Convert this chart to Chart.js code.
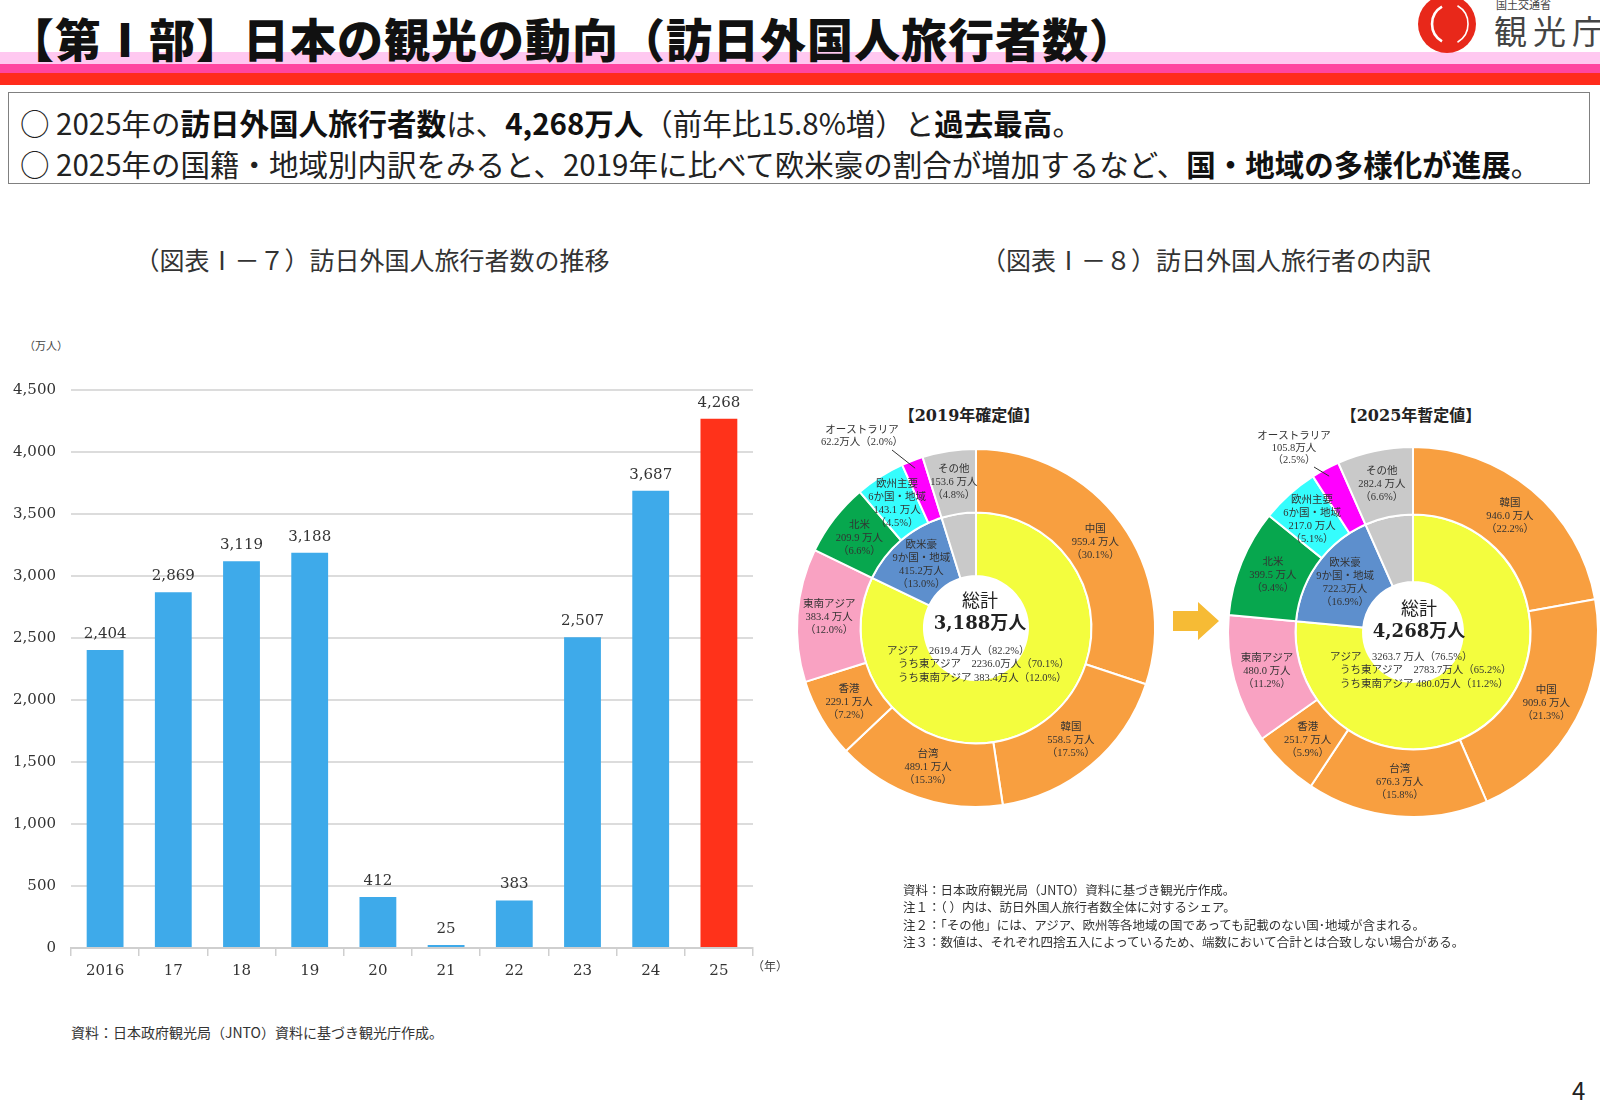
<!DOCTYPE html>
<html lang="ja">
<head>
<meta charset="utf-8">
<title>訪日外国人旅行者数</title>
<script src="https://cdn.jsdelivr.net/npm/chart.js@4.4.1/dist/chart.umd.min.js"></script>
<style>
html, body { margin: 0; padding: 0; background: #fff; overflow: hidden; }
body { width: 1600px; height: 1106px; position: relative; font-family: "Noto Sans CJK JP", "Noto Sans", sans-serif; color: #222; }
.abs { position: absolute; white-space: nowrap; }
#title { left: 8px; top: 5px; font-size: 46px; font-weight: 900; line-height: 64px; color: #111; z-index: 2; letter-spacing: 1px; }
.band { position: absolute; left: 0; width: 1600px; }
#box { left: 8px; top: 92px; width: 1582px; height: 92px; border: 1.5px solid #808080; box-sizing: border-box; }
.point { left: 20px; font-size: 29.5px; line-height: 36px; color: #222; }
.point b { font-weight: 700; color: #111; }
.sub { font-size: 25px; line-height: 30px; color: #333; }
.note { font-size: 12.5px; line-height: 17.4px; color: #333; }
.ptitle { font-family: "DejaVu Serif", "Noto Sans CJK JP", serif; font-weight: bold; font-size: 16px; color: #222; transform: translateX(-50%); }
canvas { position: absolute; }
</style>
</head>
<body>

<!-- ヘッダー -->
<div class="band" style="top:52px;height:12px;background:#ffc8f0;"></div>
<div class="band" style="top:64px;height:9px;background:#ff45a0;"></div>
<div class="band" style="top:73px;height:12px;background:#ff2c1c;"></div>
<div id="title" class="abs">【第Ⅰ部】日本の観光の動向（訪日外国人旅行者数）</div>

<svg class="abs" style="left:1414px;top:-6px" width="66" height="62">
  <circle cx="33" cy="30" r="29" fill="#e8281a"/>
  <path d="M28 12.7 A 20 20 0 0 0 28 47.3" fill="none" stroke="#fff" stroke-width="2.6"/>
  <path d="M43.5 11.8 A 21 21 0 0 1 43.5 48.2" fill="none" stroke="#fff" stroke-width="1.6"/>
</svg>
<div class="abs" style="left:1496px;top:-3px;font-size:11px;line-height:14px;color:#444;">国土交通省</div>
<div class="abs" style="left:1494px;top:10px;font-size:33px;line-height:40px;color:#444;letter-spacing:6px;">観光庁</div>

<!-- 要旨 -->
<div id="box" class="abs"></div>
<div class="abs point" style="top:104px;">○ 2025年の<b>訪日外国人旅行者数</b>は、<b>4,268万人</b>（前年比15.8%増）と<b>過去最高</b>。</div>
<div class="abs point" style="top:145px;">○ 2025年の国籍・地域別内訳をみると、2019年に比べて欧米豪の割合が増加するなど、<b>国・地域の多様化が進展</b>。</div>

<!-- 図表タイトル -->
<div class="abs sub" style="left:372px;top:244px;transform:translateX(-50%);">（図表Ⅰ－７）訪日外国人旅行者数の推移</div>
<div class="abs sub" style="left:1206px;top:244px;transform:translateX(-50%);">（図表Ⅰ－８）訪日外国人旅行者の内訳</div>

<!-- 棒グラフ -->
<div class="abs" style="left:24px;top:337px;font-size:11px;color:#444;">（万人）</div>
<canvas id="barChart" width="790" height="624" style="left:0;top:366px;"></canvas>
<div class="abs" style="left:752px;top:957px;font-size:12px;color:#444;">（年）</div>
<div class="abs" style="left:71px;top:1022px;font-size:14px;color:#333;">資料：日本政府観光局（JNTO）資料に基づき観光庁作成。</div>

<!-- 円グラフ -->
<div class="abs ptitle" style="left:969px;top:402px;">【2019年確定値】</div>
<div class="abs ptitle" style="left:1411px;top:402px;">【2025年暫定値】</div>
<canvas id="pie2019" width="500" height="500" style="left:726px;top:378px;"></canvas>
<canvas id="pie2025" width="500" height="500" style="left:1163px;top:382px;"></canvas>
<svg class="abs" style="left:1170px;top:600px" width="52" height="42">
  <polygon points="3,11 28,11 28,2 49,21 28,40 28,31 3,31" fill="#f6bb35"/>
</svg>

<div class="abs note" style="left:903px;top:881px;">資料：日本政府観光局（JNTO）資料に基づき観光庁作成。<br>注１：（ ）内は、訪日外国人旅行者数全体に対するシェア。<br>注２：「その他」には、アジア、欧州等各地域の国であっても記載のない国･地域が含まれる。<br>注３：数値は、それぞれ四捨五入によっているため、端数において合計とは合致しない場合がある。</div>

<div class="abs" style="left:1572px;top:1072px;font-size:24px;color:#222;">4</div>

<script>
// 訪日外国人旅行者数の推移（万人）
var years = ['2016', '17', '18', '19', '20', '21', '22', '23', '24', '25'];
var visitors = [2404, 2869, 3119, 3188, 412, 25, 383, 2507, 3687, 4268];
var yMax = 4500;
var yStep = 500;

// 内訳（外側の輪）
var outerNames2019 = ['中国', '韓国', '台湾', '香港', '東南アジア', '北米', '欧州主要\n6か国・地域', 'オーストラリア', 'その他'];
var outerValues2019 = [959.4, 558.5, 489.1, 229.1, 383.4, 209.9, 143.1, 62.2, 153.6];
var outerShares2019 = ['30.1', '17.5', '15.3', '7.2', '12.0', '6.6', '4.5', '2.0', '4.8'];

var outerNames2025 = ['韓国', '中国', '台湾', '香港', '東南アジア', '北米', '欧州主要\n6か国・地域', 'オーストラリア', 'その他'];
var outerValues2025 = [946.0, 909.6, 676.3, 251.7, 480.0, 399.5, 217.0, 105.8, 282.4];
var outerShares2025 = ['22.2', '21.3', '15.8', '5.9', '11.2', '9.4', '5.1', '2.5', '6.6'];

// 内訳（内側の輪）
var innerNames = ['アジア', '欧米豪\n9か国・地域', 'その他'];
var innerValues2019 = [2619.4, 415.2, 153.6];
var innerShares2019 = ['82.2', '13.0', '4.8'];
var innerValues2025 = [3263.7, 722.3, 282.4];
var innerShares2025 = ['76.5', '16.9', '6.6'];

// アジアの内訳
var eastAsia2019 = [2236.0, '70.1'];
var seAsia2019 = [383.4, '12.0'];
var eastAsia2025 = [2783.7, '65.2'];
var seAsia2025 = [480.0, '11.2'];

var totals = ['3,188', '4,268'];

// 色
var ORANGE = '#f89f40';
var outerColors = [ORANGE, ORANGE, ORANGE, ORANGE, '#f9a2c2', '#07a74e', '#35fdfd', '#ff00ff', '#c9c9c9'];
var innerColors = ['#f3fd3e', '#5d8fcd', '#c9c9c9'];
var SERIF = '"DejaVu Serif", "Noto Sans CJK JP", serif';
var LABEL_FONT = '10.5px "Liberation Serif", "Noto Sans CJK JP", serif';

function fmt1(v) { return v.toFixed(1); }

// 棒の上の数値
var barValueLabels = {
    id: 'barValueLabels',
    afterDatasetsDraw: function(chart) {
        var ctx = chart.ctx;
        var meta = chart.getDatasetMeta(0);
        ctx.save();
        ctx.font = '15px ' + SERIF;
        ctx.fillStyle = '#333';
        ctx.textAlign = 'center';
        ctx.textBaseline = 'middle';
        meta.data.forEach(function(bar, i) {
            ctx.fillText(visitors[i].toLocaleString('en-US'), bar.x, bar.y - 16);
        });
        ctx.restore();
    }
};

var barColors = visitors.map(function(v, i) { return i === visitors.length - 1 ? '#ff321a' : '#3eaaea'; });

new Chart(document.getElementById('barChart').getContext('2d'), {
    type: 'bar',
    data: {
        labels: years,
        datasets: [{
            label: '訪日外国人旅行者数',
            data: visitors,
            backgroundColor: barColors,
            borderWidth: 0,
            barPercentage: 0.54,
            categoryPercentage: 1
        }]
    },
    options: {
        responsive: false,
        animation: false,
        layout: { padding: { top: 15, right: 37, left: 0, bottom: 0 } },
        plugins: { legend: { display: false }, tooltip: { enabled: false } },
        scales: {
            x: {
                afterFit: function(s) { s.height = 42; },
                grid: { drawOnChartArea: false, drawTicks: true, tickLength: 8, color: '#cfcfcf', lineWidth: 1.5 },
                border: { display: true, color: '#cfcfcf', width: 2 },
                ticks: { color: '#333', font: { family: SERIF, size: 15 }, padding: 6 }
            },
            y: {
                min: 0,
                max: yMax,
                afterFit: function(s) { s.width = 71; },
                grid: { color: '#dcdcdc', lineWidth: 2, drawTicks: false },
                border: { display: false },
                ticks: {
                    stepSize: yStep,
                    padding: 15,
                    color: '#333',
                    font: { family: SERIF, size: 15 },
                    callback: function(v) { return v.toLocaleString('en-US'); }
                }
            }
        }
    },
    plugins: [barValueLabels]
});

// 円グラフのラベル
function drawLines(ctx, lines, x, y, lh) {
    var y0 = y - (lines.length - 1) * lh / 2;
    lines.forEach(function(t, k) { ctx.fillText(t, x, y0 + k * lh); });
}

var ringLabels = {
    id: 'ringLabels',
    afterDatasetsDraw: function(chart, args, o) {
        var ctx = chart.ctx;
        var outer = chart.getDatasetMeta(0).data;
        var inner = chart.getDatasetMeta(1).data;
        var cx = outer[0].x, cy = outer[0].y;
        ctx.save();
        ctx.fillStyle = '#333';
        ctx.textAlign = 'center';
        ctx.textBaseline = 'middle';
        ctx.font = LABEL_FONT;

        outer.forEach(function(arc, i) {
            if (i === o.outsideIndex) return;
            var p = arc.tooltipPosition();
            var lines = o.names[i].split('\n').concat([fmt1(o.values[i]) + ' 万人', '（' + o.shares[i] + '%）']);
            drawLines(ctx, lines, p.x, p.y, 13);
        });

        // 外に出すラベル
        var a = outer[o.outsideIndex];
        var mid = (a.startAngle + a.endAngle) / 2;
        var ex = cx + Math.cos(mid) * (a.outerRadius - 8);
        var ey = cy + Math.sin(mid) * (a.outerRadius - 8);
        var lx = cx + o.outside.dx, ly = cy + o.outside.dy;
        var name = o.names[o.outsideIndex];
        var val = fmt1(o.values[o.outsideIndex]) + '万人';
        var sh = '（' + o.shares[o.outsideIndex] + '%）';
        var lines = o.outside.split ? [name, val, sh] : [name, val + sh];
        lines.forEach(function(t, k) { ctx.fillText(t, lx, ly + k * 12); });
        ctx.strokeStyle = '#333';
        ctx.lineWidth = 1;
        ctx.beginPath();
        ctx.moveTo(lx + o.outside.lx, ly + o.outside.ly);
        ctx.lineTo(ex, ey);
        ctx.stroke();

        // 欧米豪
        var b = inner[1].tooltipPosition();
        var bl = innerNames[1].split('\n').concat([fmt1(o.innerValues[1]) + '万人', '（' + o.innerShares[1] + '%）']);
        drawLines(ctx, bl, b.x, b.y, 13);

        // アジア
        ctx.textAlign = 'left';
        ctx.fillText(innerNames[0] + '　' + fmt1(o.innerValues[0]) + ' 万人（' + o.innerShares[0] + '%）', cx + o.asiaX[0], cy + o.asiaY);
        ctx.fillText('うち東アジア　' + fmt1(o.east[0]) + '万人（' + o.east[1] + '%）', cx + o.asiaX[1], cy + o.asiaY + 13.5);
        ctx.fillText('うち東南アジア ' + fmt1(o.se[0]) + '万人（' + o.se[1] + '%）', cx + o.asiaX[1], cy + o.asiaY + 27);

        // 総計
        ctx.textAlign = 'center';
        ctx.fillStyle = '#222';
        ctx.font = '18px ' + SERIF;
        ctx.fillText('総計', cx + o.totalDx, cy + o.totalDy);
        ctx.font = 'bold 18px ' + SERIF;
        ctx.fillText(o.total + '万人', cx + o.totalDx, cy + o.totalDy + 22);
        ctx.restore();
    }
};

function makeDonut(id, radius, cutout, lab) {
    return new Chart(document.getElementById(id).getContext('2d'), {
        type: 'doughnut',
        data: {
            labels: lab.names,
            datasets: [
                { data: lab.values, backgroundColor: outerColors, borderColor: '#fff', borderWidth: 2, weight: 1 },
                { data: lab.innerValues, backgroundColor: innerColors, borderColor: '#fff', borderWidth: 2, weight: 1 }
            ]
        },
        options: {
            responsive: false,
            animation: false,
            radius: radius,
            cutout: cutout,
            plugins: { legend: { display: false }, tooltip: { enabled: false }, ringLabels: lab }
        },
        plugins: [ringLabels]
    });
}

makeDonut('pie2019', 179, '29%', {
    names: outerNames2019, values: outerValues2019, shares: outerShares2019,
    innerValues: innerValues2019, innerShares: innerShares2019,
    east: eastAsia2019, se: seAsia2019, total: totals[0],
    outsideIndex: 7, outside: { dx: -114, dy: -198, split: false, lx: 30, ly: 20 },
    asiaX: [-89, -78], asiaY: 23, totalDx: 4, totalDy: -26
});

makeDonut('pie2025', 185, '27%', {
    names: outerNames2025, values: outerValues2025, shares: outerShares2025,
    innerValues: innerValues2025, innerShares: innerShares2025,
    east: eastAsia2025, se: seAsia2025, total: totals[1],
    outsideIndex: 7, outside: { dx: -119, dy: -196, split: true, lx: 20, ly: 31 },
    asiaX: [-83, -73], asiaY: 25, totalDx: 6, totalDy: -22
});
</script>
</body>
</html>
